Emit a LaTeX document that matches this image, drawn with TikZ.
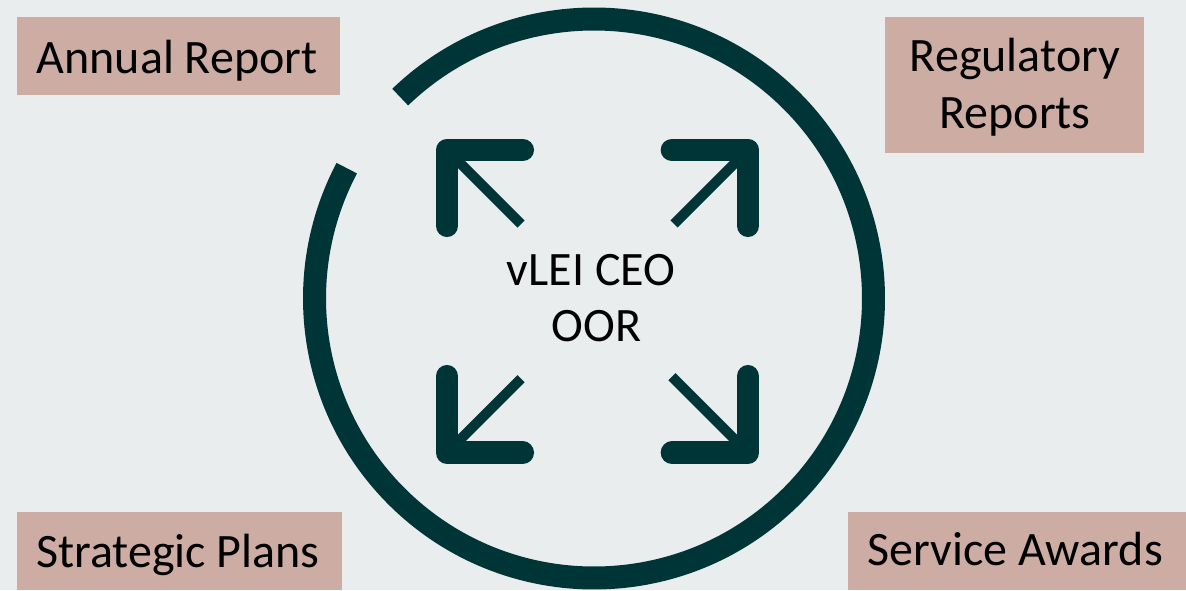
\documentclass[tikz,border=0pt]{standalone}
\usepackage{fontspec}
\setmainfont{Carlito}
\definecolor{bgc}{RGB}{233,237,238}
\definecolor{boxfill}{RGB}{205,172,163}
\definecolor{darkteal}{RGB}{0,53,56}
\begin{document}
\begin{tikzpicture}[x=1pt,y=-1pt,
  box/.style={fill=boxfill, draw=none, inner sep=0pt},
  lbl/.style={font=\fontsize{48pt}{57pt}\selectfont, inner sep=0pt, anchor=base, text=black},
  ring/.style={draw=darkteal, line width=23pt, line cap=butt},
  bracket/.style={draw=darkteal, line width=22.7pt, line cap=round, line join=round},
  shaft/.style={draw=darkteal, line width=10pt, line cap=butt}]
\fill[bgc] (0,0) rectangle (1186,590);
\useasboundingbox (0,0) rectangle (1186,590);

% boxes
\node[box, minimum width=323pt, minimum height=78pt] (ar) at (178.5,56) {};
\node[box, minimum width=259pt, minimum height=136pt] (rr) at (1014.5,84.7) {};
\node[box, minimum width=325pt, minimum height=78pt] (sp) at (179.5,551) {};
\node[box, minimum width=338pt, minimum height=78pt] (sa) at (1017,551) {};

% labels
\node[lbl] (t1) at (177,73) {Annual Report};
\node[lbl] (t2a) at (1015,71.7) {Regulatory};
\node[lbl] (t2b) at (1015,128.3) {Reports};
\node[lbl] (t3) at (178,567.3) {Strategic Plans};
\node[lbl] (t4) at (1015,565.5) {Service Awards};
\node[lbl] (c1) at (591,285.7) {vLEI CEO};
\node[lbl] (c2) at (596.5,341) {OOR};

% ring
\coordinate (c) at (594,298.5);
\draw[ring] (c) ++(-133.9:279.5) arc[start angle=-133.9, end angle=207.8, radius=279.5];

% arrows
\coordinate (tl) at (447,150);
\coordinate (tr) at (748,150);
\coordinate (bl) at (447,452.7);
\coordinate (br) at (748,452.7);
\draw[bracket] (522.7,150) -- (tl) -- (447,225.7);
\draw[shaft] (tl) -- ++(74,74);
\draw[bracket] (672,150) -- (tr) -- (748,225.7);
\draw[shaft] (tr) -- ++(-74,74);
\draw[bracket] (447,376.3) -- (bl) -- (522.7,452.7);
\draw[shaft] (bl) -- ++(74,-74);
\draw[bracket] (748,376.3) -- (br) -- (672,452.7);
\draw[shaft] (br) -- ++(-76,-76);
\end{tikzpicture}
\end{document}
